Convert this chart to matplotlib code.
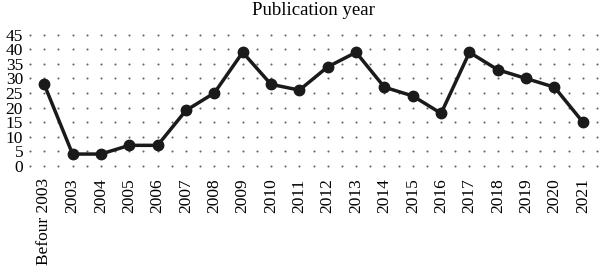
import numpy as np
import matplotlib.pyplot as plt

plt.rcParams['font.family'] = ['Liberation Serif', 'DejaVu Serif']

labels = ["Befour 2003", "2003", "2004", "2005", "2006", "2007", "2008", "2009",
          "2010", "2011", "2012", "2013", "2014", "2015", "2016", "2017",
          "2018", "2019", "2020", "2021"]
counts = [28, 4, 4, 7, 7, 19, 25, 39, 28, 26, 34, 39, 27, 24, 18, 39, 33, 30, 27, 15]
yticks = list(range(0, 50, 5))

fig = plt.figure(figsize=(6, 2.7), dpi=100)
ax = fig.add_axes([0.0477, 0.3756, 0.9497, 0.5059])

x = np.arange(len(labels))

# dotted grid rows, one dot every half category
gx = np.arange(-0.5, len(labels) - 0.49, 0.5)
for yv in yticks:
    ax.plot(gx, [yv] * len(gx), ls='none', marker='o', ms=1.5,
            color='#666666', mew=0, zorder=1)

ax.plot(x, counts, color='#1a1a1a', lw=2.5, marker='o', ms=7.5, zorder=3)

ax.set_xlim(-0.55, len(labels) - 0.45)
ax.set_ylim(-1, 46)
ax.set_yticks(yticks)
ax.set_xticks(x)
ax.set_xticklabels(labels, rotation=90, fontsize=12.5)
ax.tick_params(axis='x', length=0, pad=7)
ax.tick_params(axis='y', length=0, pad=4, labelsize=12.5)
for s in ax.spines.values():
    s.set_visible(False)

fig.text(0.523, 0.945, "Publication year", ha='center', va='baseline', fontsize=13.5)

fig.savefig("out.png", dpi=100)
